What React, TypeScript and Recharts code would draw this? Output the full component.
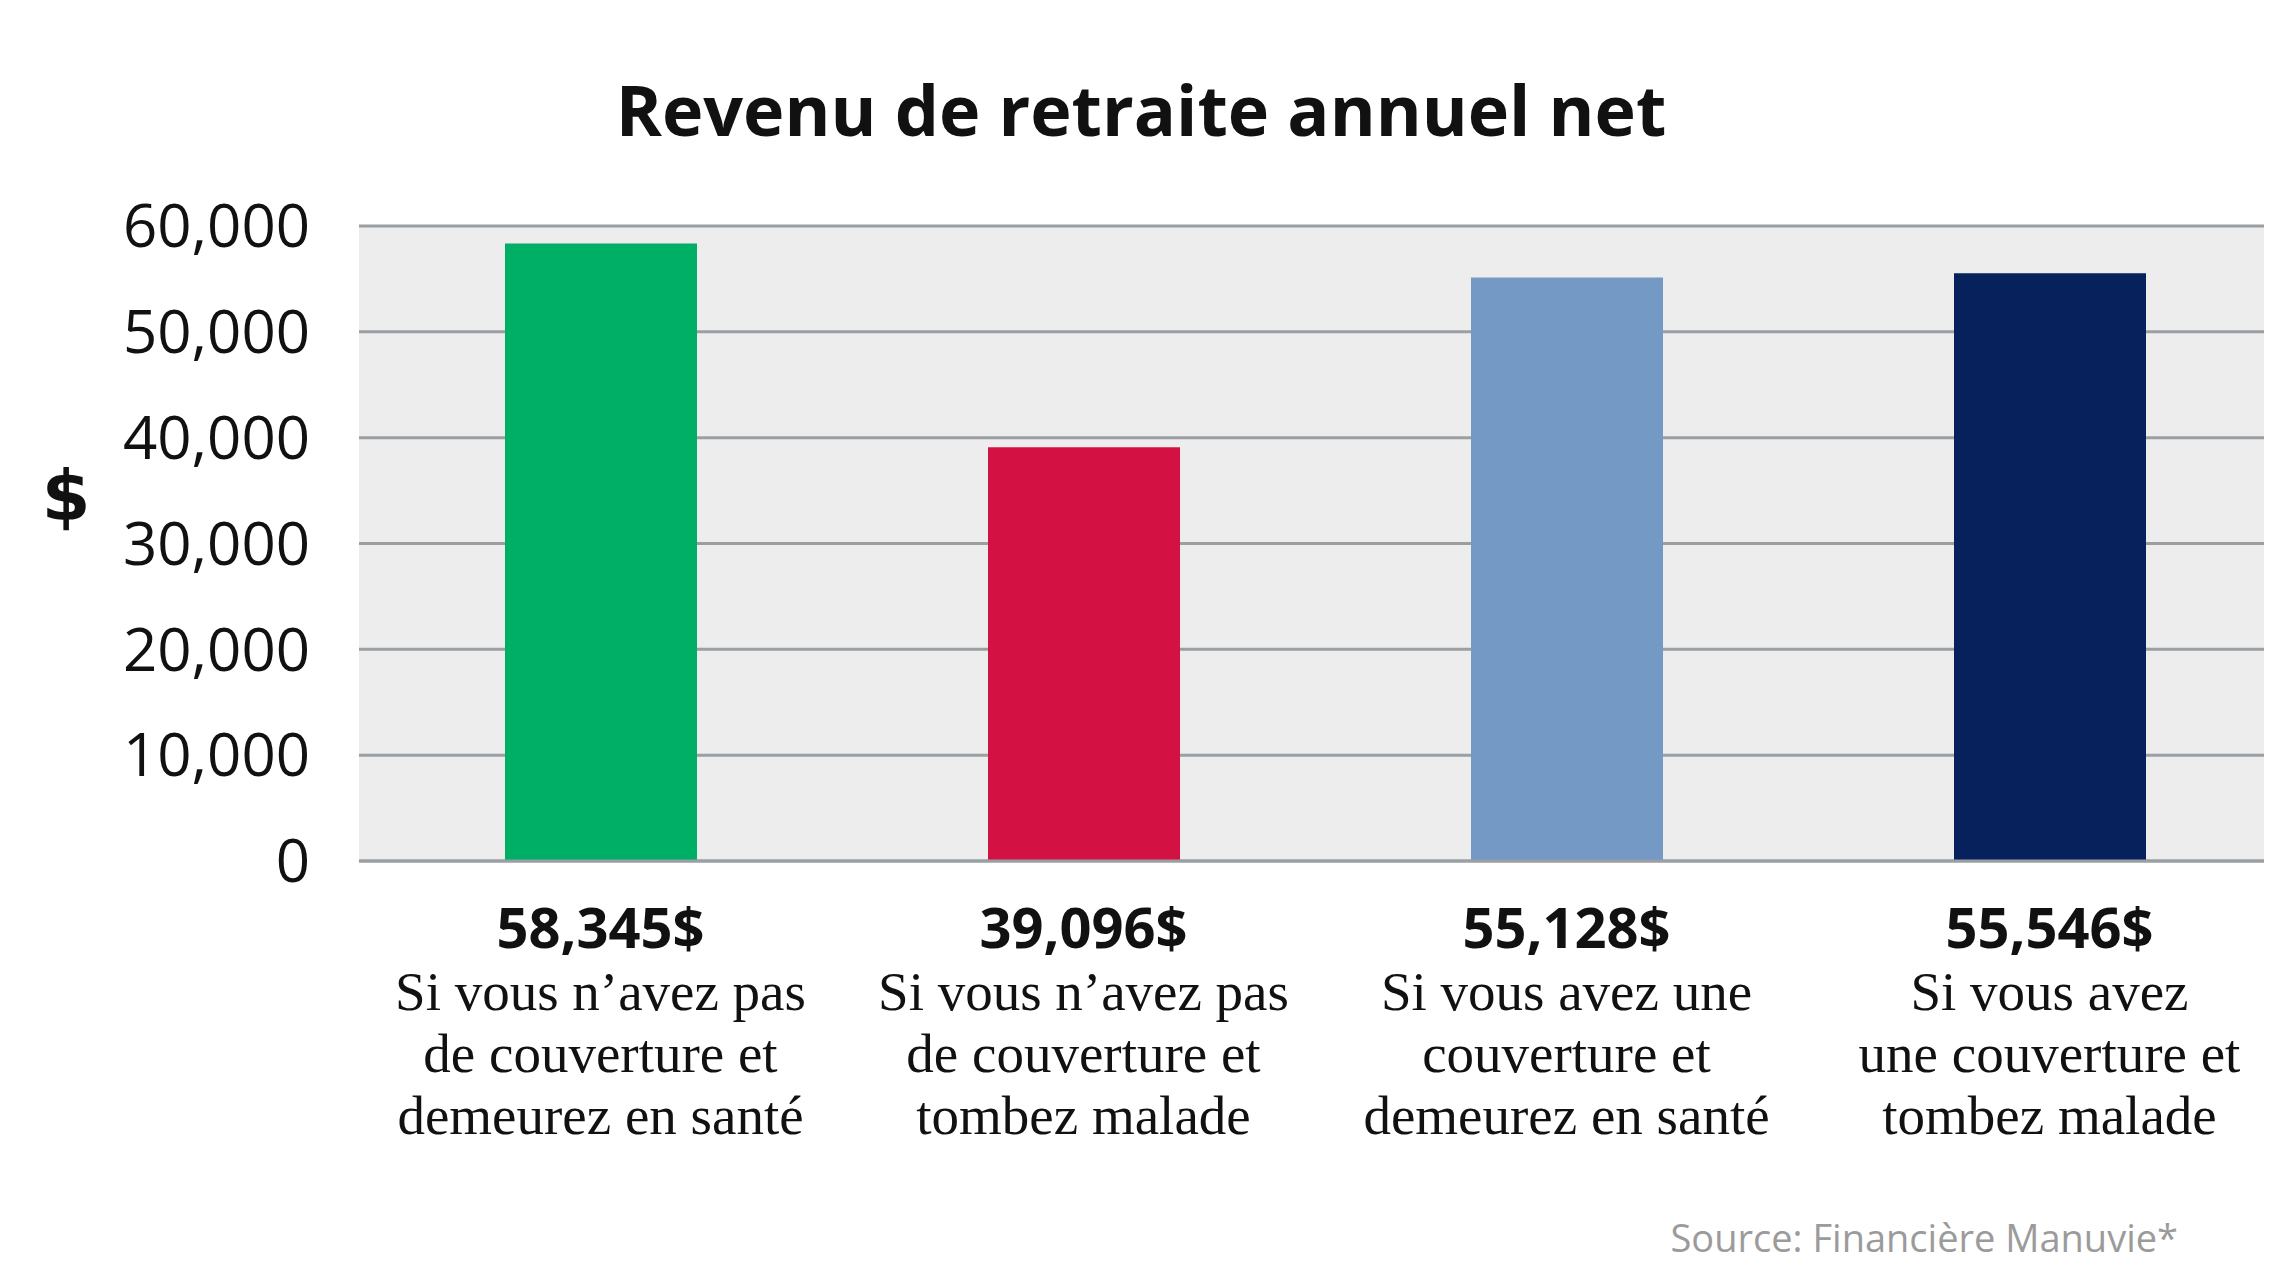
import React from 'react';
import { BarChart, Bar, XAxis, YAxis, CartesianGrid, Cell } from 'recharts';

const categories = [
  ['Si vous n’avez pas', 'de couverture et', 'demeurez en santé'],
  ['Si vous n’avez pas', 'de couverture et', 'tombez malade'],
  ['Si vous avez une', 'couverture et', 'demeurez en santé'],
  ['Si vous avez', 'une couverture et', 'tombez malade'],
];
const values = [58345, 39096, 55128, 55546];
const colors = ['#00AF66', '#D31243', '#7599C5', '#06215B'];
const yTicks = [0, 10000, 20000, 30000, 40000, 50000, 60000];

const data = categories.map((lines, i) => ({
  name: lines.join(' '),
  lines,
  value: values[i],
}));

const fmt = (v: number) => v.toLocaleString('en-US');

const CategoryTick = (props: any) => {
  const { x, y, index } = props;
  const d = data[index];
  return (
    <g>
      <text
        x={x}
        y={y + 87}
        textAnchor="middle"
        fontFamily="Open Sans"
        fontWeight="bold"
        fontSize={56}
        fill="#111"
      >
        {fmt(d.value) + '$'}
      </text>
      {d.lines.map((line, i) => (
        <text
          key={i}
          x={x}
          y={y + 149 + i * 62}
          textAnchor="middle"
          fontFamily="Liberation Serif"
          fontSize={55}
          fill="#111"
        >
          {line}
        </text>
      ))}
    </g>
  );
};

export default function App() {
  return (
    <div style={{ position: 'absolute', left: 0, top: 0, width: 2292, height: 1273, background: '#fff' }}>
      <BarChart
        width={2292}
        height={1273}
        data={data}
        margin={{ top: 226, right: 28, left: 0, bottom: 0 }}
      >
        <CartesianGrid
          vertical={false}
          horizontal={true}
          fill="#EDEDED"
          stroke="#9A9FA4"
          strokeWidth={3}
        />
        <XAxis
          dataKey="name"
          height={412}
          interval={0}
          padding={{ left: 0, right: -27 }}
          axisLine={{ stroke: '#9A9FA4', strokeWidth: 3 }}
          tickLine={false}
          tickSize={0}
          tickMargin={0}
          tick={<CategoryTick />}
        />
        <YAxis
          width={359}
          domain={[0, 60000]}
          ticks={yTicks}
          interval={0}
          axisLine={false}
          tickLine={false}
          tickSize={0}
          tickMargin={49}
          tickFormatter={fmt}
          tick={{ fontFamily: 'Open Sans', fontSize: 60, fill: '#111' }}
        />
        <Bar dataKey="value" barSize={192} isAnimationActive={false}>
          {data.map((d, i) => (
            <Cell key={d.name} fill={colors[i]} />
          ))}
        </Bar>
      </BarChart>
      <svg
        width={2292}
        height={1273}
        style={{ position: 'absolute', left: 0, top: 0, pointerEvents: 'none' }}
      >
        <text
          x={1141}
          y={136}
          textAnchor="middle"
          fontFamily="Open Sans"
          fontWeight="bold"
          fontSize={70}
          fill="#111"
        >
          Revenu de retraite annuel net
        </text>
        <text
          x={66}
          y={495}
          dy="0.35em"
          textAnchor="middle"
          fontFamily="DejaVu Sans"
          fontWeight="bold"
          fontSize={70}
          fill="#111"
        >
          $
        </text>
        <text
          x={2178}
          y={1252}
          textAnchor="end"
          fontFamily="Open Sans"
          fontSize={38}
          fill="#9B9B9B"
        >
          Source: Financière Manuvie*
        </text>
      </svg>
    </div>
  );
}
